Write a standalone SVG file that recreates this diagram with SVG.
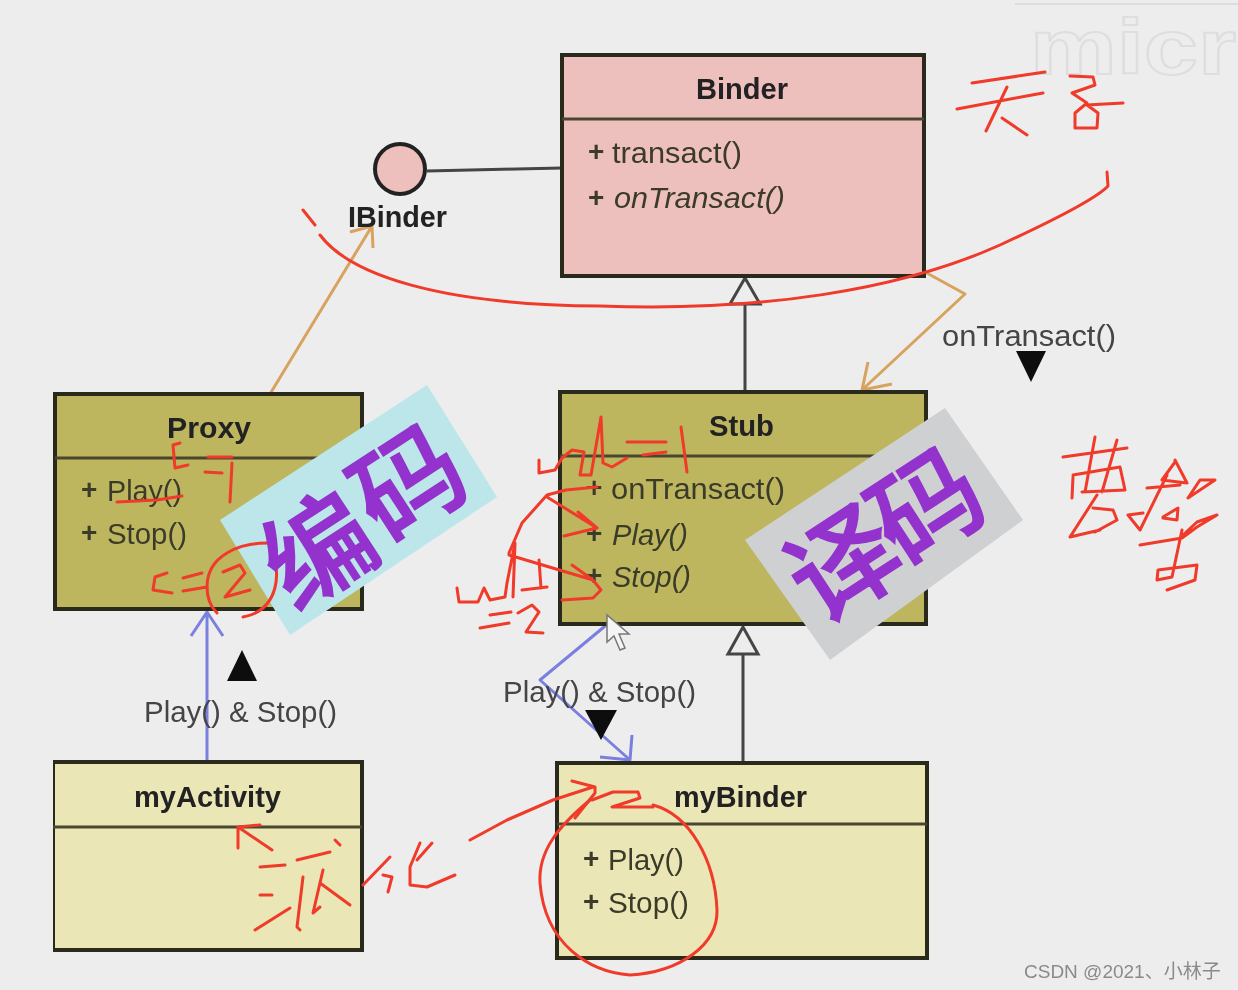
<svg xmlns="http://www.w3.org/2000/svg" width="1238" height="990" viewBox="0 0 1238 990">
<style>
text{font-family:"Liberation Sans","Noto Sans CJK SC",sans-serif;fill:#3a3a2a}
.box{stroke:#2a2a1e;stroke-width:4}
.div{stroke:#4a4630;stroke-width:3}
.pink{fill:#eec0bd}.olive{fill:#bdb65f}.pale{fill:#ebe6b5}
.t{font-size:29px;font-weight:700;fill:#222;text-anchor:start}
.m{font-size:30px}
.i{font-size:30px;font-style:italic}
.p{font-size:28px;font-weight:700}
.lab{font-size:29.5px;fill:#444}
.cj{font-family:"Noto Sans CJK SC",sans-serif;font-size:108px;font-weight:500;stroke:#9333cc;stroke-width:1.5;fill:#9333cc;text-anchor:middle}
.ink{fill:none;stroke:#f03a2a;stroke-width:3;stroke-linecap:round;stroke-linejoin:round}
.or{fill:none;stroke:#d8a25e;stroke-width:3;stroke-linejoin:round}
.bl{fill:none;stroke:#7a80e0;stroke-width:3;stroke-linejoin:round}
.gr{fill:none;stroke:#444;stroke-width:3}
.tri{fill:#ededed;stroke:#444;stroke-width:3}
</style>
<defs><filter id="soft" x="0" y="0" width="100%" height="100%"><feGaussianBlur stdDeviation="0.7"/></filter></defs>
<rect width="1238" height="990" fill="#ededed"/>
<g filter="url(#soft)">
<g id="watermark-top">
<path d="M1015 4H1238" stroke="#dcdcdc" stroke-width="2" fill="none"/>
<text x="1030" y="74" font-size="78" font-weight="700" style="fill:none;stroke:#dedede;stroke-width:2" textLength="206" lengthAdjust="spacingAndGlyphs">micr</text>
</g>
<g id="connectors">
<path class="gr" d="M427 171L562 168"/>
<path class="gr" d="M745 304V390M743 654V762"/>
<path class="tri" d="M745 278L730 304H760Z"/>
<path class="tri" d="M743 627L728 654H758Z"/>
<path class="or" d="M270 394L372 226M350 232L372 226L373 248"/>
<path class="or" d="M925 272L965 294L862 390M868 362L862 390L892 384"/>
<path class="bl" d="M207 762V612M191 636L207 612L223 636"/>
<path class="bl" d="M610 622L540 680L630 760M632 735L630 760L600 757"/>
<path d="M242 650L227 681H257Z" fill="#111"/>
<path d="M585 710H617L601 740Z" fill="#111"/>
<path d="M1016 351H1046L1031 382Z" fill="#111"/>
<text class="lab" x="144" y="722" textLength="193" lengthAdjust="spacingAndGlyphs">Play() &amp; Stop()</text>
<text class="lab" x="503" y="702" textLength="193" lengthAdjust="spacingAndGlyphs">Play() &amp; Stop()</text>
<text class="lab" x="942" y="346" textLength="174" lengthAdjust="spacingAndGlyphs">onTransact()</text>
</g>
<g id="IBinder">
<circle cx="400" cy="169" r="25" fill="#eec0bd" stroke="#222" stroke-width="4"/>
<text class="t" x="348" y="227" textLength="99" lengthAdjust="spacingAndGlyphs">IBinder</text>
</g>
<g id="Binder">
<rect class="box pink" x="562" y="55" width="362" height="221"/>
<path class="div" d="M562 119H924"/>
<text class="t" x="696" y="99" textLength="92" lengthAdjust="spacingAndGlyphs">Binder</text>
<text class="p" x="588" y="161">+</text><text class="m" x="612" y="163" textLength="130" lengthAdjust="spacingAndGlyphs">transact()</text>
<text class="p" x="588" y="207">+</text><text class="i" x="614" y="208" textLength="171" lengthAdjust="spacingAndGlyphs">onTransact()</text>
</g>
<g id="Proxy">
<rect class="box olive" x="55" y="394" width="307" height="215"/>
<path class="div" d="M55 458H362"/>
<text class="t" x="167" y="438" textLength="84" lengthAdjust="spacingAndGlyphs">Proxy</text>
<text class="p" x="81" y="499">+</text><text class="m" x="107" y="501" textLength="75" lengthAdjust="spacingAndGlyphs">Play()</text>
<text class="p" x="81" y="542">+</text><text class="m" x="107" y="544" textLength="80" lengthAdjust="spacingAndGlyphs">Stop()</text>
</g>
<g id="Stub">
<rect class="box olive" x="560" y="392" width="366" height="232"/>
<path class="div" d="M560 456H926"/>
<text class="t" x="709" y="436" textLength="65" lengthAdjust="spacingAndGlyphs">Stub</text>
<text class="p" x="586" y="497">+</text><text class="m" x="611" y="499" textLength="174" lengthAdjust="spacingAndGlyphs">onTransact()</text>
<text class="p" x="586" y="543">+</text><text class="i" x="612" y="545" textLength="76" lengthAdjust="spacingAndGlyphs">Play()</text>
<text class="p" x="586" y="585">+</text><text class="i" x="612" y="587" textLength="79" lengthAdjust="spacingAndGlyphs">Stop()</text>
</g>
<g id="myActivity">
<rect class="box pale" x="53" y="762" width="309" height="188"/>
<path class="div" d="M53 827H362"/>
<text class="t" x="134" y="807" textLength="147" lengthAdjust="spacingAndGlyphs">myActivity</text>
</g>
<g id="myBinder">
<rect class="box pale" x="557" y="763" width="370" height="195"/>
<path class="div" d="M557 824H927"/>
<text class="t" x="674" y="807" textLength="133" lengthAdjust="spacingAndGlyphs">myBinder</text>
<text class="p" x="583" y="868">+</text><text class="m" x="608" y="870" textLength="76" lengthAdjust="spacingAndGlyphs">Play()</text>
<text class="p" x="583" y="911">+</text><text class="m" x="608" y="913" textLength="81" lengthAdjust="spacingAndGlyphs">Stop()</text>
</g>
<g id="stickers">
<path d="M220 520L427 385L497 497L290 635Z" fill="#bde6ea"/>
<path d="M745 540L945 408L1023 520L830 660Z" fill="#cfd0d2"/>
</g>
<g id="cursor"><path d="M607 615V642L614 636L620 650L625 648L619 634L629 634Z" fill="#f4f4f4" stroke="#777" stroke-width="1.5"/></g>
<g id="ink" class="ink">
<path d="M303 210L315 225M320 235C350 275 440 305 600 306C760 312 900 290 1000 245C1050 222 1095 200 1108 186L1107 172"/>
<path d="M972 83L1045 72M957 109L1043 93M1007 87L986 131M1002 118L1027 135"/>
<path d="M1070 76L1093 77L1095 85L1072 93L1087 103L1075 113L1075 128L1097 128L1098 113L1087 105L1123 103"/>
<path d="M1063 457L1127 448M1095 437L1085 492M1117 440L1102 492M1073 477L1072 498M1073 475L1120 467L1125 490L1082 492"/>
<path d="M1097 495L1070 537L1100 530M1095 532L1117 520L1113 510L1093 508"/>
<path d="M1175 460L1187 483L1162 480L1175 462M1147 488L1180 485M1167 475L1140 530L1128 515L1143 513M1163 517L1178 508L1177 520L1163 518"/>
<path d="M1188 498L1215 480L1200 480L1188 498M1140 545L1182 538L1197 527L1217 515L1197 522L1183 535M1182 530L1172 577L1157 580L1158 570L1197 565L1195 580L1167 590"/>
<path d="M180 443L173 445L175 468L188 465M208 457H232M205 472L222 473M232 463L230 502M117 502L157 500L182 496"/>
<path d="M167 573L155 577L153 590L172 593M183 578L202 573M183 591L207 587"/>
<path d="M268 543C240 543 207 555 207 587C207 600 212 608 217 613M270 547C282 570 280 610 243 617"/>
<path d="M223 572L240 565L245 573L225 597L250 590"/>
<path d="M539 460L539 473L555 470L562 458L572 450L584 452L580 475L591 475L601 417L603 463L612 467L627 458M627 442H666M643 455L666 452M681 427L687 472"/>
<path d="M597 487L566 490L547 495L522 523L509 553M547 497L597 528M578 512L597 528L564 536"/>
<path d="M509 555L593 580M572 565L593 580L601 590L593 598L562 600"/>
<path d="M457 588L459 602L478 602L484 588L490 600L505 597L507 583L515 543L513 597M539 560L541 588M522 590L547 587"/>
<path d="M490 615L511 612M480 628L509 623M518 613L532 605L539 612L526 632L543 633"/>
<path d="M272 850L238 827M260 825L238 827L238 848"/>
<path d="M260 867L285 865M260 895L272 895M255 930L290 908M297 860L330 852M335 840L340 845M303 877L297 927L300 930M323 870L313 913L320 907M320 883L350 905"/>
<path d="M363 885L390 857M383 875L392 877L388 892M420 843L410 867L410 885L427 887L455 875M432 843L417 860"/>
<path d="M470 840L507 820L553 800L593 787M572 781L595 787L595 793L575 818"/>
<path d="M592 800L613 792L638 792L640 798L612 807H653"/>
<path d="M653 805C690 815 715 860 717 910C718 945 680 972 630 975C590 972 545 945 540 883C538 850 560 825 590 800"/>
</g>
<g id="sticker-text">
<text class="cj" transform="translate(340 583) rotate(-33)">编</text>
<text class="cj" transform="translate(430 516) rotate(-33)">码</text>
<text class="cj" transform="translate(865 597) rotate(-33)">译</text>
<text class="cj" transform="translate(948 539) rotate(-33)">码</text>
</g>
<text id="csdn" x="1024" y="978" font-size="19" style="fill:#8a8a8a">CSDN @2021、小林子</text>
</g>
</svg>
